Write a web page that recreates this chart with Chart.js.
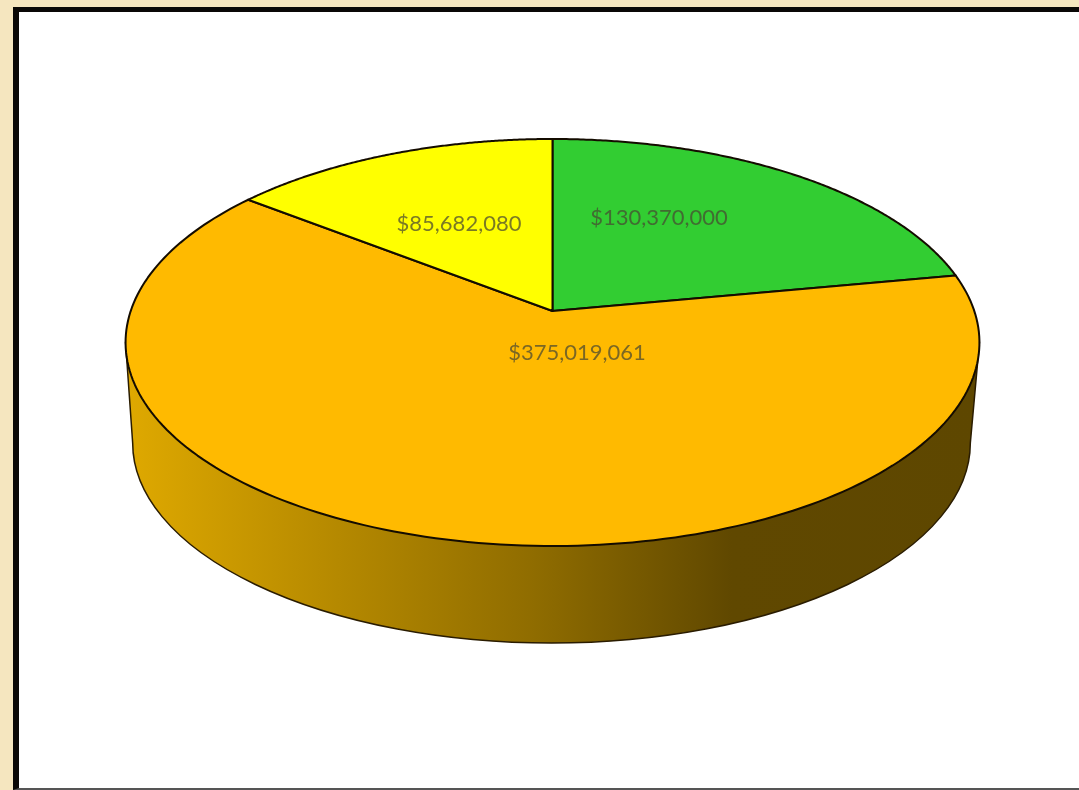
<!DOCTYPE html>
<html lang="en">

<head>
  <meta charset="UTF-8">
  <title>3D Pie</title>
  <style>
    body {
      margin: 0;
      width: 1079px;
      height: 790px;
      overflow: hidden;
      background-color: #f5e6bf;
    }

    #frame {
      position: absolute;
      left: 13px;
      top: 7px;
      width: 1100px;
      height: 776px;
      background-color: #fff;
      border-left: 6px solid #0a0806;
      border-top: 5px solid #0a0806;
      border-bottom: 2px solid #555;
    }

    canvas {
      position: absolute;
      left: 0;
      top: 0;
      filter: blur(0.7px);
    }
  </style>
</head>

<body>
  <div id="frame"></div>
  <canvas id="pie" width="1079" height="790"></canvas>

  <script src="https://cdn.jsdelivr.net/npm/chart.js"></script>
  <script>
    const categories = ['Green', 'Orange', 'Yellow'];
    const amounts = [130370000, 375019061, 85682080];
    const sliceColors = ['#32cd32', '#ffba00', '#ffff00'];

    const aspect = 2.098;  // horizontal stretch of the disc
    const tilt = -0.155;   // perspective: pushes the pie apex above the ellipse centre
    const lineColor = '#140c00';

    // pixel offsets of the data labels from the ellipse centre
    const labelOffsets = [[106.5, -124.5], [24.5, 10.5], [-93.5, -118.5]];

    // unit disc -> screen, a projective map so the circle stays an ellipse
    function project(el, angle, frac) {
      const u = Math.cos(angle) * frac;
      const v = Math.sin(angle) * frac;
      const d = 1 + tilt * v;
      return [
        el.x + el.outerRadius * aspect * u * Math.sqrt(1 - tilt * tilt) / d,
        el.y + el.outerRadius * (v + tilt) / d
      ];
    }

    // draw each arc through the projection instead of a flat circle
    Chart.ArcElement.prototype.draw = function (ctx) {
      const steps = 180;
      ctx.save();
      ctx.beginPath();
      ctx.moveTo(...project(this, 0, 0));
      for (let i = 0; i <= steps; i++) {
        const a = this.startAngle + (this.endAngle - this.startAngle) * i / steps;
        ctx.lineTo(...project(this, a, 1));
      }
      ctx.closePath();
      ctx.fillStyle = this.options.backgroundColor;
      ctx.fill();
      ctx.strokeStyle = this.options.borderColor;
      ctx.lineWidth = this.options.borderWidth;
      ctx.lineJoin = 'round';
      ctx.stroke();
      ctx.restore();
    };

    // side wall under the front edge of the disc
    const wallPlugin = {
      id: 'wall',
      beforeDatasetsDraw(chart) {
        const ctx = chart.ctx;
        const el = chart.getDatasetMeta(0).data[1];
        const rx = el.outerRadius * aspect;
        const ry = el.outerRadius;
        const left = el.x - rx;
        const right = el.x + rx;
        const grad = ctx.createLinearGradient(left, 0, right, 0);
        grad.addColorStop(0, '#dfa900');
        grad.addColorStop(0.2, '#bd8f00');
        grad.addColorStop(0.48, '#8f6c00');
        grad.addColorStop(0.71, '#604800');
        grad.addColorStop(1, '#5e4700');

        ctx.save();
        ctx.beginPath();
        ctx.moveTo(left, el.y);
        ctx.ellipse(el.x - 1, el.y + 100.5, rx * 0.981, ry * 0.983, 0, Math.PI, 0, true);
        ctx.lineTo(right, el.y);
        ctx.closePath();
        ctx.fillStyle = grad;
        ctx.fill();
        ctx.strokeStyle = '#2a1c00';
        ctx.lineWidth = 1.5;
        ctx.stroke();
        ctx.restore();
      }
    };

    const labelPlugin = {
      id: 'sliceLabels',
      afterDatasetsDraw(chart) {
        const ctx = chart.ctx;
        const el = chart.getDatasetMeta(0).data[0];
        ctx.save();
        ctx.font = '22px Lato';
        ctx.fillStyle = 'rgba(70, 70, 50, 0.72)';
        ctx.textAlign = 'center';
        ctx.textBaseline = 'middle';
        amounts.forEach((v, i) => {
          const text = '$' + v.toLocaleString('en-US');
          ctx.fillText(text, el.x + labelOffsets[i][0], el.y + labelOffsets[i][1]);
        });
        ctx.restore();
      }
    };

    new Chart(document.getElementById('pie').getContext('2d'), {
      type: 'pie',
      data: {
        labels: categories,
        datasets: [{
          data: amounts,
          backgroundColor: sliceColors,
          borderColor: lineColor,
          borderWidth: 2
        }]
      },
      options: {
        responsive: false,
        animation: false,
        layout: { padding: { top: 138, bottom: 243, left: 26, right: 0 } },
        plugins: {
          legend: { display: false },
          tooltip: { enabled: false }
        }
      },
      plugins: [wallPlugin, labelPlugin]
    });
  </script>
</body>

</html>
